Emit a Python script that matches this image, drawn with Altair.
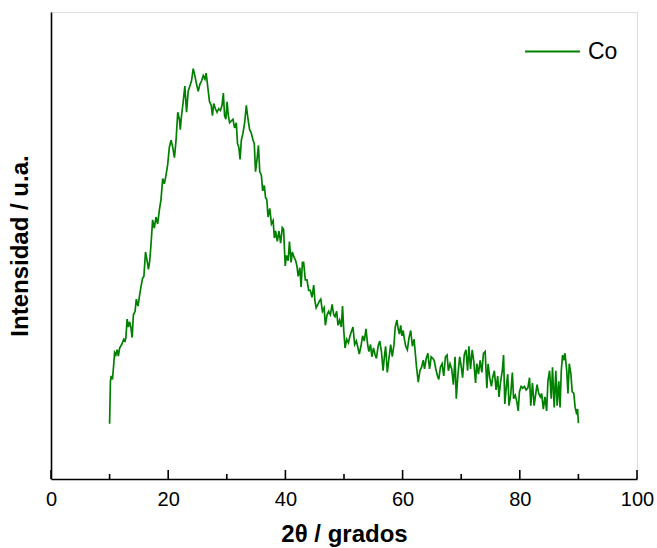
import altair as alt
import pandas as pd

two_theta = [
    10.0, 10.14, 10.28, 10.49, 10.71, 10.85, 11.06, 11.28, 11.49, 11.71,
    12.06, 12.42, 12.63, 12.78, 12.99, 13.20, 13.42, 13.63, 13.85, 14.06,
    14.35, 14.56, 14.85, 15.06, 15.35, 15.63, 15.85, 16.13, 16.35, 16.63,
    16.85, 17.06, 17.34, 17.63, 17.92, 18.20, 18.49, 18.77, 19.06, 19.34,
    19.63, 19.91, 20.20, 20.49, 20.77, 21.06, 21.34, 21.63, 21.91, 22.06,
    22.27, 22.56, 22.84, 23.13, 23.41, 23.70, 23.98, 24.27, 24.55, 24.84,
    25.12, 25.41, 25.70, 25.98, 26.27, 26.48, 26.77, 27.05, 27.34, 27.55,
    27.77, 28.05, 28.34, 28.62, 28.91, 29.19, 29.41, 29.62, 29.84, 30.05,
    30.26, 30.48, 30.76, 31.05, 31.33, 31.62, 31.83, 32.05, 32.26, 32.48,
    32.76, 33.05, 33.33, 33.62, 33.90, 34.19, 34.48, 34.69, 34.90, 35.19,
    35.40, 35.62, 35.90, 36.12, 36.40, 36.62, 36.83, 37.04, 37.33, 37.62,
    37.90, 38.12, 38.33, 38.62, 38.90, 39.19, 39.47, 39.69, 39.97, 40.19,
    40.47, 40.69, 40.97, 41.18, 41.47, 41.76, 41.97, 42.18, 42.47, 42.68,
    42.90, 43.11, 43.40, 43.68, 43.97, 44.25, 44.54, 44.83, 45.04, 45.25,
    45.54, 45.82, 46.04, 46.32, 46.61, 46.82, 47.11, 47.39, 47.68, 47.97,
    48.25, 48.47, 48.75, 48.97, 49.25, 49.54, 49.75, 49.96, 50.18, 50.46,
    50.75, 51.03, 51.32, 51.53, 51.82, 52.11, 52.39, 52.61, 52.89, 53.18,
    53.46, 53.75, 54.03, 54.25, 54.53, 54.75, 55.03, 55.32, 55.53, 55.82,
    56.10, 56.39, 56.67, 56.89, 57.10, 57.39, 57.67, 57.96, 58.24, 58.53,
    58.74, 59.03, 59.24, 59.46, 59.67, 59.89, 60.10, 60.31, 60.53, 60.81,
    61.10, 61.38, 61.67, 61.96, 62.17, 62.38, 62.67, 62.96, 63.24, 63.53,
    63.74, 64.03, 64.31, 64.60, 64.88, 65.17, 65.38, 65.67, 65.95, 66.17,
    66.45, 66.74, 67.02, 67.31, 67.59, 67.81, 68.09, 68.38, 68.67, 68.95,
    69.16, 69.45, 69.74, 70.02, 70.24, 70.52, 70.81, 71.09, 71.31, 71.59,
    71.88, 72.16, 72.45, 72.66, 72.95, 73.23, 73.52, 73.80, 74.09, 74.38,
    74.59, 74.87, 75.16, 75.37, 75.66, 75.95, 76.23, 76.45, 76.73, 77.02,
    77.23, 77.44, 77.73, 77.94, 78.16, 78.44, 78.73, 78.94, 79.23, 79.51,
    79.73, 79.94, 80.23, 80.51, 80.80, 81.08, 81.37, 81.66, 81.87, 82.16,
    82.44, 82.73, 82.94, 83.23, 83.51, 83.73, 84.01, 84.30, 84.58, 84.80,
    85.08, 85.37, 85.58, 85.87, 86.15, 86.37, 86.65, 86.87, 87.08, 87.30,
    87.51, 87.72, 88.01, 88.22, 88.44, 88.72, 88.94, 89.22, 89.44, 89.65,
    89.86, 90.0,
]

intensity = [
    158, 280, 295, 285, 330, 362, 355, 370, 352, 375,
    385, 400, 395, 405, 458, 435, 450, 435, 405, 470,
    480, 515, 495, 520, 550, 575, 580, 650, 630, 600,
    625, 670, 742, 718, 750, 730, 770, 800, 860, 845,
    870, 900, 950, 970, 950, 920, 970, 1050, 1030, 1000,
    1040, 1080, 1125, 1050, 1110, 1125, 1140, 1175, 1155, 1130,
    1110, 1130, 1140, 1155, 1145, 1162, 1120, 1080, 1070, 1040,
    1075, 1060, 1050, 1060, 1055, 1070, 1105, 1040, 1030, 1080,
    1040, 1020, 1025, 1030, 1005, 1020, 960, 950, 915, 970,
    990, 1020, 1070, 1030, 1000, 990, 970, 960, 880, 920,
    955, 880, 870, 825, 840, 805, 800, 750, 775, 730,
    740, 690, 710, 680, 710, 675, 720, 715, 610, 640,
    625, 680, 620, 650, 635, 625, 610, 580, 605, 550,
    620, 620, 570, 570, 540, 540, 520, 555, 510, 490,
    500, 510, 515, 480, 490, 440, 470, 480, 470, 500,
    470, 465, 480, 440, 455, 435, 495, 425, 375, 400,
    390, 410, 425, 435, 385, 395, 375, 358, 380, 410,
    395, 430, 385, 365, 385, 350, 375, 355, 345, 380,
    395, 365, 310, 350, 380, 305, 345, 385, 350, 385,
    435, 455, 430, 415, 440, 410, 425, 400, 380, 370,
    405, 425, 380, 400, 360, 320, 277, 310, 320, 340,
    315, 345, 360, 315, 350, 345, 340, 315, 295, 285,
    320, 330, 295, 350, 355, 310, 330, 315, 270, 350,
    230, 300, 350, 320, 290, 355, 370, 310, 380, 315,
    370, 335, 275, 330, 300, 340, 305, 360, 365, 260,
    330, 290, 265, 290, 310, 255, 295, 235, 280, 310,
    355, 215, 270, 300, 210, 240, 305, 230, 240, 220,
    195, 250, 265, 260, 265, 255, 260, 290, 210, 275,
    210, 245, 270, 245, 235, 245, 200, 235, 195, 280,
    310, 230, 320, 205, 310, 210, 280, 205, 310, 355,
    340, 360, 310, 245, 330, 300, 250, 245, 205, 190,
    200, 160,
]

series_name = ["Co"]
series_color = ["#008000"]
x_tick_values = [0, 20, 40, 60, 80, 100]
major_ticks = [0, 20, 40, 60, 80, 100]
minor_ticks = [10, 30, 50, 70, 90]

assert len(two_theta) == len(intensity)

W, H = 586, 467
FONT = "Liberation Sans"

df = pd.DataFrame({"two_theta": two_theta, "intensity": intensity,
                   "serie": series_name[0]})

xscale = alt.Scale(domain=[0, 100], nice=False, zero=False)
yscale = alt.Scale(domain=[0, 1337], nice=False, zero=False)

line = alt.Chart(df).mark_line(strokeWidth=1.7, interpolate="linear").encode(
    x=alt.X("two_theta:Q", scale=xscale,
            axis=alt.Axis(values=x_tick_values, title="2θ / grados",
                          grid=False, ticks=False, labelFontSize=20,
                          labelFont=FONT, labelColor="black",
                          labelPadding=10, domainColor="black",
                          domainWidth=1.6, titleFont=FONT,
                          titleFontSize=24, titleFontWeight="bold",
                          titleColor="black", titlePadding=13,
                          labelFlush=False)),
    y=alt.Y("intensity:Q", scale=yscale,
            axis=alt.Axis(labels=False, ticks=False, grid=False,
                          title="Intensidad / u.a.", titleFont=FONT,
                          titleFontSize=24, titleFontWeight="bold",
                          titleColor="black", titlePadding=19,
                          domainColor="black", domainWidth=1.6)),
    color=alt.Color("serie:N",
                    scale=alt.Scale(domain=series_name, range=series_color),
                    legend=alt.Legend(title=None, orient="none",
                                      legendX=473, legendY=11,
                                      symbolType="stroke", symbolSize=3025,
                                      symbolStrokeWidth=2,
                                      labelFontSize=23, labelFont=FONT,
                                      labelColor="black", labelOffset=7,
                                      padding=0)),
)

major = alt.Chart(pd.DataFrame({"t": major_ticks})).mark_rule(
    color="black", strokeWidth=1.6).encode(
    x=alt.X("t:Q", scale=xscale),
    y=alt.value(H), y2=alt.value(H - 9))

minor = alt.Chart(pd.DataFrame({"t": minor_ticks})).mark_rule(
    color="black", strokeWidth=1.6).encode(
    x=alt.X("t:Q", scale=xscale),
    y=alt.value(H), y2=alt.value(H - 5))

chart = alt.layer(line, major, minor).properties(
    width=W, height=H,
    autosize=alt.AutoSizeParams(type="none"),
    padding={"left": 51, "top": 12, "right": 20, "bottom": 69},
).configure_view(stroke="black", strokeWidth=1.6).configure(
    background="white")

chart.save("out.html", embed_options={"renderer": "svg", "actions": False})
